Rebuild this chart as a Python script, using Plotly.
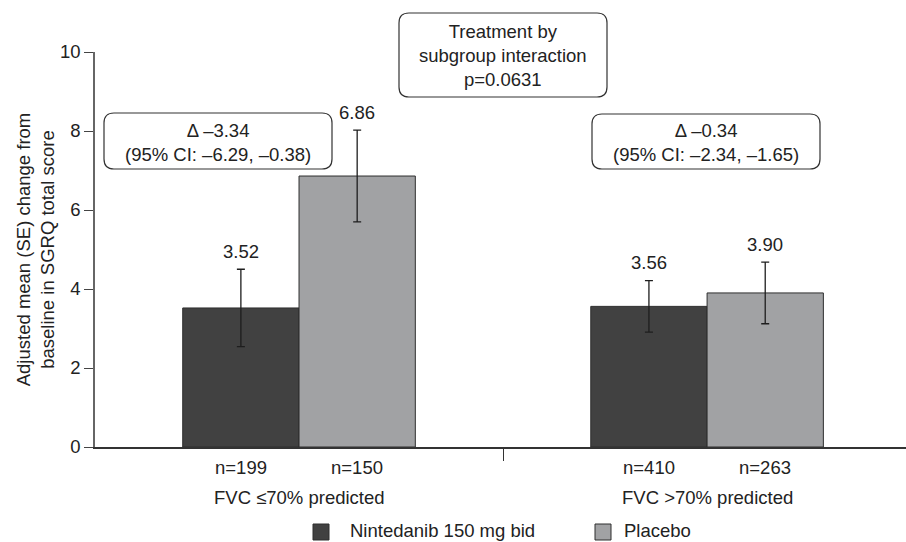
import plotly.graph_objects as go

# ---- data ----
groups = ["FVC ≤70% predicted", "FVC >70% predicted"]
group_x = [1, 3]
treatments = ["Nintedanib 150 mg bid", "Placebo"]
nintedanib_mean = [3.52, 3.56]
nintedanib_se = [0.98, 0.65]
placebo_mean = [6.86, 3.90]
placebo_se = [1.16, 0.78]
nintedanib_n = [199, 410]
placebo_n = [150, 263]
delta_text = ["Δ –3.34<br>(95% CI: –6.29, –0.38)", "Δ –0.34<br>(95% CI: –2.34, –1.65)"]
interaction_text = "Treatment by<br>subgroup interaction<br>p=0.0631"
y_ticks = [0, 2, 4, 6, 8, 10]

# ---- style ----
W, H = 906, 542
ML, MR, MT, MB = 95, 0, 52, 95
PW, PH = W - ML - MR, H - MT - MB
DARK = "#414141"
LIGHT = "#a1a2a4"
EDGE = "#2e2e2e"
TXT = "#222222"
FONT = "Liberation Sans, Arial, sans-serif"
FS = 18.5
BAR_W = 0.57
X_MAX = 3.975


def px_x(x):
    return (x - ML) / PW


def px_y(y):
    return (H - MB - y) / PH


def rounded_rect(x0, y0, x1, y1, r=10):
    """Rounded rectangle path in paper coordinates, from pixel corners."""
    rx, ry = r / PW, r / PH
    a, b = px_x(x0), px_x(x1)
    top, bot = px_y(y0), px_y(y1)
    return (f"M{a + rx},{top} L{b - rx},{top} Q{b},{top} {b},{top - ry} "
            f"L{b},{bot + ry} Q{b},{bot} {b - rx},{bot} "
            f"L{a + rx},{bot} Q{a},{bot} {a},{bot + ry} "
            f"L{a},{top - ry} Q{a},{top} {a + rx},{top} Z")


def label(x, y, text, xref="paper", yref="paper", **kw):
    d = dict(x=x, y=y, xref=xref, yref=yref, text=text, showarrow=False,
             xanchor="center", yanchor="middle",
             font=dict(size=FS, color=TXT, family=FONT))
    d.update(kw)
    return d


fig = go.Figure()
for name, means, ses, color in [
    (treatments[0], nintedanib_mean, nintedanib_se, DARK),
    (treatments[1], placebo_mean, placebo_se, LIGHT),
]:
    fig.add_trace(go.Bar(
        name=name, x=group_x, y=means,
        marker=dict(color=color, line=dict(color=EDGE, width=1)),
        error_y=dict(type="data", array=ses, visible=True,
                     color="#1e1e1e", thickness=1.3, width=4),
        showlegend=False,
    ))

annotations = []
shapes = []

# value labels above the error bars
for means, ses, off in [(nintedanib_mean, nintedanib_se, -BAR_W / 2),
                        (placebo_mean, placebo_se, BAR_W / 2)]:
    for gx, m, s in zip(group_x, means, ses):
        annotations.append(label(gx + off, m + s, f"{m:.2f}", xref="x", yref="y",
                                 yshift=18))

# n labels and group labels under the axis
for gx, n1, n2, g in zip(group_x, nintedanib_n, placebo_n, groups):
    for off, n in [(-BAR_W / 2, n1), (BAR_W / 2, n2)]:
        annotations.append(label(gx + off, px_y(467), f"n={n}", xref="x"))
    annotations.append(label(gx, px_y(497), g, xref="x"))

# difference boxes
for (x0, y0, x1, y1), txt in zip([(104, 113, 332, 169), (592, 114, 820, 169)], delta_text):
    shapes.append(dict(type="path", path=rounded_rect(x0, y0, x1, y1),
                       xref="paper", yref="paper",
                       line=dict(color="#333333", width=1.2)))
    annotations.append(label(px_x((x0 + x1) / 2), px_y((y0 + y1) / 2 + 1), txt))

# interaction box
shapes.append(dict(type="path", path=rounded_rect(399, 13, 607, 97),
                   xref="paper", yref="paper",
                   line=dict(color="#333333", width=1.2)))
annotations.append(label(px_x(503), px_y(55), interaction_text))

# legend drawn as swatches + labels
for (sx0, sx1, tx), color, name in zip([(313, 329, 349), (595, 611, 623)],
                                       [DARK, LIGHT], treatments):
    shapes.append(dict(type="rect", xref="paper", yref="paper",
                       x0=px_x(sx0), x1=px_x(sx1), y0=px_y(540), y1=px_y(524),
                       fillcolor=color, line=dict(color=EDGE, width=1)))
    annotations.append(label(px_x(tx), px_y(542), name, xanchor="left",
                             yanchor="bottom", borderpad=0))

fig.update_layout(
    width=W, height=H,
    margin=dict(l=ML, r=MR, t=MT, b=MB, pad=0),
    paper_bgcolor="white", plot_bgcolor="white",
    barmode="group", bargap=0.43, bargroupgap=0,
    font=dict(family=FONT, size=FS, color=TXT),
    annotations=annotations, shapes=shapes,
    xaxis=dict(range=[0, X_MAX], tickvals=[2], ticktext=[""],
               ticks="outside", ticklen=12, tickcolor="#333333", tickwidth=1.2,
               showline=True, linecolor="#333333", linewidth=1.5,
               showgrid=False, zeroline=False, fixedrange=True),
    yaxis=dict(range=[0, 10], tickvals=y_ticks, ticksuffix="\u00a0\u00a0",
               ticks="outside", ticklen=9, tickcolor="#444444", tickwidth=1.4,
               showline=True, linecolor="#666666", linewidth=1.5,
               showgrid=False, zeroline=False,
               tickfont=dict(size=FS, color=TXT, family=FONT),
               title=dict(text="Adjusted mean (SE) change from<br>baseline in SGRQ total score",
                          font=dict(size=FS, color=TXT, family=FONT), standoff=0)),
)

fig.write_html("out.html")
